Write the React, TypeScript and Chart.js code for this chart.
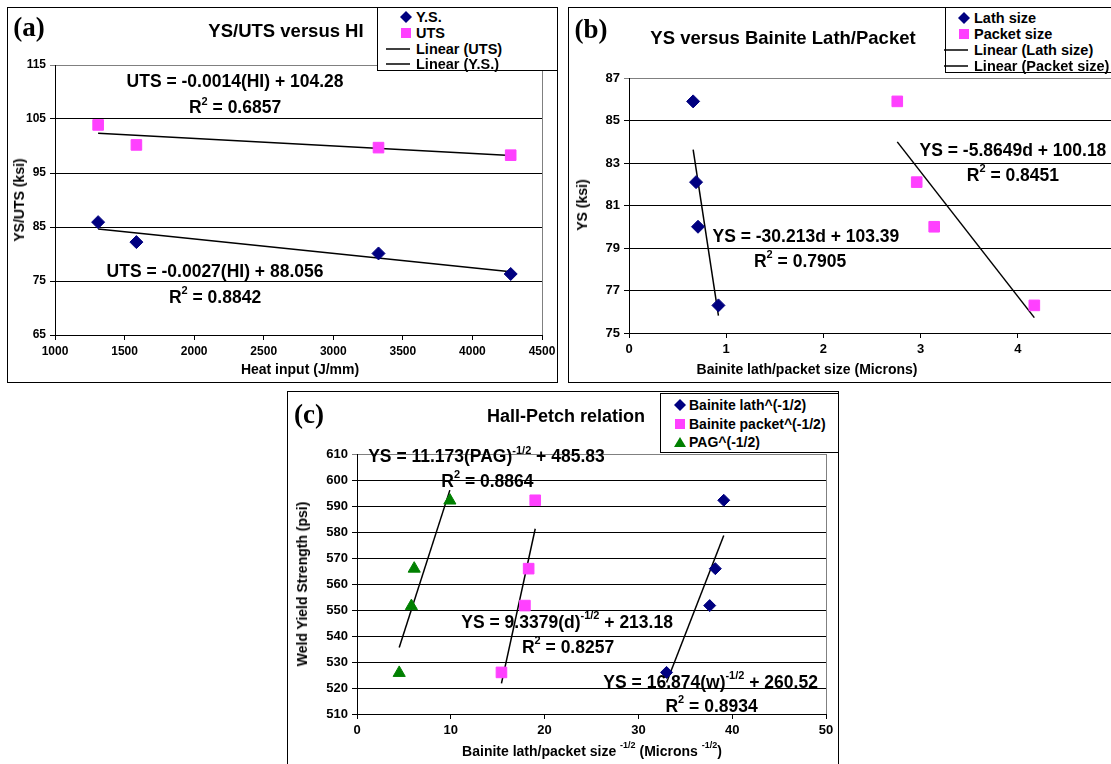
import React, { useEffect, useRef } from "react";
import { Chart, registerables } from "chart.js";

Chart.register(...registerables);

const SANS = "'Liberation Sans', Arial, Helvetica, sans-serif";
const SERIF = "'Liberation Serif', 'Times New Roman', serif";

// ---------- Panel (a) data ----------
const heatInput = [1310, 1585, 3325, 4275];
const utsValues = [103.9, 100.2, 99.7, 98.3];
const ysValues = [85.9, 82.2, 80.1, 76.3];
const aXRange = [1000, 4500, 500];
const aYRange = [65, 115, 10];

// ---------- Panel (b) data ----------
const lathSize = [0.66, 0.69, 0.71, 0.92];
const packetSize = [2.76, 2.96, 3.14, 4.17];
const bYield = [85.9, 82.1, 80.0, 76.3];
const bXRange = [0, 5, 1];
const bYRange = [75, 87, 2];

// ---------- Panel (c) data ----------
const lathInvSqrt = [33.0, 37.6, 38.2, 39.1];
const packetInvSqrt = [15.4, 17.9, 18.3, 19.0];
const pagInvSqrt = [4.5, 5.8, 6.1, 9.9];
const cYield = [526.0, 551.7, 565.9, 592.2];
const pagYield = [525.8, 551.5, 565.9, 592.1];
const cXRange = [0, 50, 10];
const cYRange = [510, 610, 10];

// Equation labels (text + anchor in data units)
type Part = [string, boolean];
type Eq = { x: number; y: number; parts: Part[] };
const aEquations: Eq[] = [
  { x: 2294, y: 111.8, parts: [["UTS = -0.0014(HI) + 104.28", false]] },
  { x: 2294, y: 107.0, parts: [["R", false], ["2", true], [" = 0.6857", false]] },
  { x: 2150, y: 76.6, parts: [["UTS = -0.0027(HI) + 88.056", false]] },
  { x: 2150, y: 71.9, parts: [["R", false], ["2", true], [" = 0.8842", false]] },
];
const bEquations: Eq[] = [
  { x: 3.95, y: 83.55, parts: [["YS = -5.8649d + 100.18", false]] },
  { x: 3.95, y: 82.4, parts: [["R", false], ["2", true], [" = 0.8451", false]] },
  { x: 1.82, y: 79.5, parts: [["YS = -30.213d + 103.39", false]] },
  { x: 1.76, y: 78.35, parts: [["R", false], ["2", true], [" = 0.7905", false]] },
];
const cEquations: Eq[] = [
  { x: 13.8, y: 608.7, parts: [["YS = 11.173(PAG)", false], ["-1/2", true], [" + 485.83", false]] },
  { x: 13.9, y: 599.2, parts: [["R", false], ["2", true], [" = 0.8864", false]] },
  { x: 22.4, y: 545.0, parts: [["YS = 9.3379(d)", false], ["-1/2", true], [" + 213.18", false]] },
  { x: 22.5, y: 535.5, parts: [["R", false], ["2", true], [" = 0.8257", false]] },
  { x: 37.7, y: 522.0, parts: [["YS = 16.874(w)", false], ["-1/2", true], [" + 260.52", false]] },
  { x: 37.8, y: 512.8, parts: [["R", false], ["2", true], [" = 0.8934", false]] },
];

const NAVY = "#000080";
const MAGENTA = "#ff40ff";
const GREEN = "#008000";

const CW = 1140;
const CH = 770;
const Y_AXIS_W = 40;
const X_AXIS_H = 24;

function pts(xs: number[], ys: number[]) {
  return xs.map((x, i) => ({ x, y: ys[i] }));
}

function fitLine(xs: number[], ys: number[]) {
  const n = xs.length;
  const mx = xs.reduce((a, b) => a + b, 0) / n;
  const my = ys.reduce((a, b) => a + b, 0) / n;
  let sxy = 0;
  let sxx = 0;
  for (let i = 0; i < n; i++) {
    sxy += (xs[i] - mx) * (ys[i] - my);
    sxx += (xs[i] - mx) * (xs[i] - mx);
  }
  const slope = sxy / sxx;
  const icpt = my - slope * mx;
  const x0 = Math.min(...xs);
  const x1 = Math.max(...xs);
  return [
    { x: x0, y: icpt + slope * x0 },
    { x: x1, y: icpt + slope * x1 },
  ];
}

function scatterSet(data: { x: number; y: number }[], style: string, color: string, r: number) {
  return {
    data,
    pointStyle: style,
    pointRadius: r,
    backgroundColor: color,
    borderColor: color,
    borderWidth: 1,
    showLine: false,
  };
}

function trendSet(data: { x: number; y: number }[]) {
  return {
    data,
    showLine: true,
    pointRadius: 0,
    borderColor: "#000",
    borderWidth: 1.5,
    fill: false,
  };
}

function makeEqPlugin(items: Eq[], size: number) {
  return {
    id: "eqLabels",
    afterDatasetsDraw(chart: any) {
      const ctx = chart.ctx as CanvasRenderingContext2D;
      const main = `bold ${size}px ${SANS}`;
      const sup = `bold ${Math.round(size * 0.62)}px ${SANS}`;
      ctx.save();
      ctx.fillStyle = "#000";
      ctx.textBaseline = "middle";
      ctx.textAlign = "left";
      for (const it of items) {
        const px = chart.scales.x.getPixelForValue(it.x);
        const py = chart.scales.y.getPixelForValue(it.y);
        const widths = it.parts.map(([t, s]) => {
          ctx.font = s ? sup : main;
          return ctx.measureText(t).width;
        });
        const total = widths.reduce((a, b) => a + b, 0);
        let cx = px - total / 2;
        it.parts.forEach(([t, s], i) => {
          ctx.font = s ? sup : main;
          ctx.fillText(t, cx, s ? py - size * 0.38 : py);
          cx += widths[i];
        });
      }
      ctx.restore();
    },
  };
}

const borderPlugin = {
  id: "plotBorder",
  beforeDatasetsDraw(chart: any) {
    const { ctx, chartArea } = chart;
    ctx.save();
    ctx.strokeStyle = "#808080";
    ctx.lineWidth = 1;
    ctx.beginPath();
    ctx.moveTo(Math.round(chartArea.right) + 0.5, chartArea.top);
    ctx.lineTo(Math.round(chartArea.right) + 0.5, chartArea.bottom);
    ctx.stroke();
    ctx.restore();
  },
};

type Area = { l: number; r: number; t: number; b: number };

function makeConfig(
  datasets: any[],
  area: Area,
  xr: number[],
  yr: number[],
  eqs: Eq[],
  tickSize: number,
  eqSize: number
) {
  const tickFont = { family: SANS, size: tickSize, weight: "bold" as const };
  const plain = (v: any) => String(v);
  return {
    type: "scatter" as const,
    data: { datasets },
    options: {
      animation: false as const,
      responsive: false,
      events: [],
      layout: {
        padding: {
          left: area.l - Y_AXIS_W,
          top: area.t,
          right: CW - area.r,
          bottom: CH - area.b - X_AXIS_H,
        },
      },
      plugins: {
        legend: { display: false },
        tooltip: { enabled: false },
        title: { display: false },
      },
      scales: {
        x: {
          type: "linear" as const,
          min: xr[0],
          max: xr[1],
          ticks: {
            stepSize: xr[2],
            color: "#000",
            font: tickFont,
            padding: 4,
            maxRotation: 0,
            autoSkip: false,
            callback: plain,
          },
          grid: { drawOnChartArea: false, drawTicks: true, tickLength: 5, color: "#000" },
          border: { color: "#000", width: 1 },
          afterFit: (s: any) => {
            s.height = X_AXIS_H;
          },
        },
        y: {
          type: "linear" as const,
          min: yr[0],
          max: yr[1],
          ticks: { stepSize: yr[2], color: "#000", font: tickFont, padding: 4, callback: plain },
          grid: {
            drawTicks: true,
            tickLength: 5,
            lineWidth: 1,
            color: (c: any) => (c.tick && c.tick.value === yr[1] ? "#808080" : "#000"),
          },
          border: { color: "#000", width: 1 },
          afterFit: (s: any) => {
            s.width = Y_AXIS_W;
          },
        },
      },
    },
    plugins: [makeEqPlugin(eqs, eqSize), borderPlugin],
  };
}

function ChartLayer({ build }: { build: () => any }) {
  const ref = useRef<HTMLCanvasElement>(null);
  useEffect(() => {
    const chart = new Chart(ref.current as HTMLCanvasElement, build());
    return () => chart.destroy();
  }, []);
  return (
    <canvas
      ref={ref}
      width={CW}
      height={CH}
      style={{ position: "absolute", left: 0, top: 0, width: CW, height: CH }}
    />
  );
}

function Frame({ l, t, w, h }: { l: number; t: number; w: number; h: number }) {
  return (
    <div
      style={{
        position: "absolute",
        left: l,
        top: t,
        width: w,
        height: h,
        border: "1px solid #000",
        boxSizing: "border-box",
        background: "#fff",
      }}
    />
  );
}

function Label({
  x,
  y,
  size,
  rotate,
  serif,
  children,
}: {
  x: number;
  y: number;
  size: number;
  rotate?: boolean;
  serif?: boolean;
  children: any;
}) {
  return (
    <div
      style={{
        position: "absolute",
        left: x,
        top: y,
        transform: `translate(-50%, -50%)${rotate ? " rotate(-90deg)" : ""}`,
        whiteSpace: "nowrap",
        fontFamily: serif ? SERIF : SANS,
        fontWeight: "bold",
        fontSize: size,
        lineHeight: 1,
        color: "#000",
        zIndex: 5,
      }}
    >
      {children}
    </div>
  );
}

function Marker({ kind }: { kind: string }) {
  if (kind === "line") {
    return (
      <svg width={24} height={10} style={{ display: "block" }}>
        <line x1={0} y1={5} x2={24} y2={5} stroke="#000" strokeWidth={1.5} />
      </svg>
    );
  }
  let shape: any = null;
  if (kind === "diamond") shape = <polygon points="6,0 12,6 6,12 0,6" fill={NAVY} />;
  if (kind === "square") shape = <rect x={1} y={1} width={10} height={10} fill={MAGENTA} />;
  if (kind === "triangle") shape = <polygon points="6,1 12,11 0,11" fill={GREEN} />;
  return (
    <svg width={12} height={12} style={{ display: "block" }}>
      {shape}
    </svg>
  );
}

function Legend({
  l,
  t,
  w,
  h,
  rows,
  markerX,
  textX,
  rowY,
  size,
}: {
  l: number;
  t: number;
  w: number;
  h: number;
  rows: { kind: string; label: string }[];
  markerX: number;
  textX: number;
  rowY: number[];
  size: number;
}) {
  return (
    <div
      style={{
        position: "absolute",
        left: l,
        top: t,
        width: w,
        height: h,
        border: "1px solid #000",
        boxSizing: "border-box",
        background: "#fff",
        zIndex: 6,
      }}
    >
      {rows.map((r, i) => (
        <React.Fragment key={i}>
          <div
            style={{
              position: "absolute",
              left: r.kind === "line" ? markerX - 20 : markerX - 6,
              top: rowY[i] - (r.kind === "line" ? 5 : 6),
            }}
          >
            <Marker kind={r.kind} />
          </div>
          <div
            style={{
              position: "absolute",
              left: textX,
              top: rowY[i],
              transform: "translateY(-50%)",
              fontFamily: SANS,
              fontWeight: "bold",
              fontSize: size,
              lineHeight: 1,
              whiteSpace: "nowrap",
            }}
          >
            {r.label}
          </div>
        </React.Fragment>
      ))}
    </div>
  );
}

const supStyle = { fontSize: 9, verticalAlign: "top", position: "relative" as const, top: -3 };

export default function App() {
  const buildA = () =>
    makeConfig(
      [
        scatterSet(pts(heatInput, ysValues), "rectRot", NAVY, 6.5),
        scatterSet(pts(heatInput, utsValues), "rect", MAGENTA, 7.5),
        trendSet(fitLine(heatInput, utsValues)),
        trendSet(fitLine(heatInput, ysValues)),
      ],
      { l: 55, r: 542, t: 65, b: 335 },
      aXRange,
      aYRange,
      aEquations,
      12,
      17.5
    );
  const buildB = () =>
    makeConfig(
      [
        scatterSet(pts(lathSize, bYield), "rectRot", NAVY, 6.5),
        scatterSet(pts(packetSize, bYield), "rect", MAGENTA, 7.5),
        trendSet(fitLine(lathSize, bYield)),
        trendSet(fitLine(packetSize, bYield)),
      ],
      { l: 629, r: 1115, t: 78, b: 333 },
      bXRange,
      bYRange,
      bEquations,
      13,
      17.5
    );
  const buildC = () =>
    makeConfig(
      [
        scatterSet(pts(lathInvSqrt, cYield), "rectRot", NAVY, 6),
        scatterSet(pts(packetInvSqrt, cYield), "rect", MAGENTA, 7.5),
        scatterSet(pts(pagInvSqrt, pagYield), "triangle", GREEN, 7),
        trendSet(fitLine(lathInvSqrt, cYield)),
        trendSet(fitLine(packetInvSqrt, cYield)),
        trendSet(fitLine(pagInvSqrt, pagYield)),
      ],
      { l: 357, r: 826, t: 454, b: 714 },
      cXRange,
      cYRange,
      cEquations,
      13,
      17.5
    );

  return (
    <div
      style={{
        position: "absolute",
        left: 0,
        top: 0,
        width: 1111,
        height: 764,
        overflow: "hidden",
        background: "#fff",
      }}
    >
      <Frame l={7} t={7} w={551} h={376} />
      <Frame l={568} t={7} w={570} h={376} />
      <Frame l={287} t={391} w={552} h={390} />

      <ChartLayer build={buildA} />
      <ChartLayer build={buildB} />
      <ChartLayer build={buildC} />

      <Label x={29} y={27} size={27} serif>(a)</Label>
      <Label x={286} y={31} size={18.5}>YS/UTS versus HI</Label>
      <Label x={19} y={200} size={14} rotate>YS/UTS (ksi)</Label>
      <Label x={300} y={369} size={14}>Heat input (J/mm)</Label>

      <Label x={591} y={29} size={27} serif>(b)</Label>
      <Label x={783} y={38} size={18.5}>YS versus Bainite Lath/Packet</Label>
      <Label x={582} y={205} size={14} rotate>YS (ksi)</Label>
      <Label x={807} y={369} size={14}>Bainite lath/packet size (Microns)</Label>

      <Label x={309} y={414} size={27} serif>(c)</Label>
      <Label x={566} y={416} size={18}>Hall-Petch relation</Label>
      <Label x={302} y={584} size={14} rotate>Weld Yield Strength (psi)</Label>
      <Label x={592} y={751} size={14}>
        Bainite lath/packet size <span style={supStyle}>-1/2</span> (Microns <span style={supStyle}>-1/2</span>)
      </Label>

      <Legend
        l={377}
        t={7}
        w={181}
        h={64}
        markerX={28}
        textX={38}
        size={14.5}
        rowY={[9, 25, 41, 56]}
        rows={[
          { kind: "diamond", label: "Y.S." },
          { kind: "square", label: "UTS" },
          { kind: "line", label: "Linear (UTS)" },
          { kind: "line", label: "Linear (Y.S.)" },
        ]}
      />
      <Legend
        l={945}
        t={7}
        w={190}
        h={66}
        markerX={18}
        textX={28}
        size={14.5}
        rowY={[10, 26, 42, 58]}
        rows={[
          { kind: "diamond", label: "Lath size" },
          { kind: "square", label: "Packet size" },
          { kind: "line", label: "Linear (Lath size)" },
          { kind: "line", label: "Linear (Packet size)" },
        ]}
      />
      <Legend
        l={660}
        t={393}
        w={179}
        h={60}
        markerX={19}
        textX={28}
        size={14}
        rowY={[11, 30, 48]}
        rows={[
          { kind: "diamond", label: "Bainite lath^(-1/2)" },
          { kind: "square", label: "Bainite packet^(-1/2)" },
          { kind: "triangle", label: "PAG^(-1/2)" },
        ]}
      />
    </div>
  );
}
